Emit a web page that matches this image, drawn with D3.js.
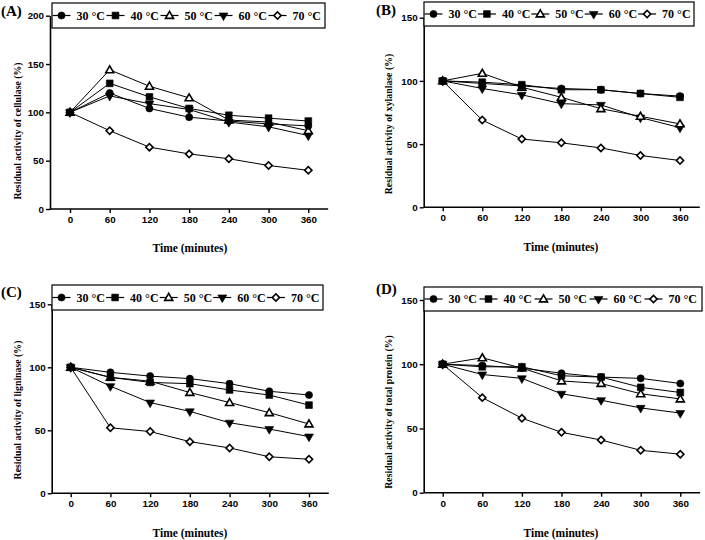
<!DOCTYPE html>
<html>
<head>
<meta charset="utf-8">
<script src="https://cdn.jsdelivr.net/npm/d3@7"></script>
<style>
  html, body { margin: 0; padding: 0; background: #fff; }
  svg { display: block; }
</style>
</head>
<body>
<svg id="chart" width="705" height="540"></svg>
<script>
// ---- data ----
const times = [0, 60, 120, 180, 240, 300, 360];
const seriesNames = ["30 °C", "40 °C", "50 °C", "60 °C", "70 °C"];
const panelLetters = ["(A)", "(B)", "(C)", "(D)"];
const yTitles = [
  "Residual activity of cellulase (%)",
  "Residual activity of xylanlase (%)",
  "Residual activity of ligninase (%)",
  "Residual activity of total protein (%)"
];
const xTitle = "Time (minutes)";
const yTicksA = [0, 50, 100, 150, 200];
const yTicksBCD = [0, 50, 100, 150];

// series order: 30, 40, 50, 60, 70 °C
const cellulase = [
  [100, 120, 104, 95, 91, 88, 86],
  [100, 130, 116, 104, 97, 94, 91],
  [100, 144, 127, 115, 92, 90, 81],
  [100, 117, 109, 103, 90, 85, 76],
  [100, 81, 64, 57, 52, 45, 40]
];
const xylanase = [
  [100, 98, 96, 94, 93, 90, 88],
  [100, 99, 97, 93, 93, 90, 87],
  [100, 106, 95, 87, 78, 72, 66],
  [100, 94, 89, 82, 81, 71, 63],
  [100, 69, 54, 51, 47, 41, 37]
];
const ligninase = [
  [100, 96, 93, 91, 87, 81, 78],
  [100, 92, 88, 87, 82, 78, 70],
  [100, 92, 89, 80, 72, 64, 55],
  [100, 85, 72, 65, 56, 51, 45],
  [100, 52, 49, 41, 36, 29, 27]
];
const totalProtein = [
  [100, 99, 97, 93, 90, 89, 85],
  [100, 98, 98, 91, 90, 82, 78],
  [100, 105, 97, 87, 85, 77, 73],
  [100, 92, 89, 77, 72, 66, 62],
  [100, 74, 58, 47, 41, 33, 30]
];

// ---- layout (pixels) ----
const panels = [
  { data: cellulase, yTicks: yTicksA, yMax: 200,
    left: 50, x0: 70, x360: 308.3, bottom: 209, yTop: 15.7,
    leg: [52, 325, 3, 28], letter: [1, 16], yTitle: [18, 131], xTitleY: 252, xTitleX: 190 },
  { data: xylanase, yTicks: yTicksBCD, yMax: 150,
    left: 423.7, x0: 442.7, x360: 680, bottom: 207.3, yTop: 17.7,
    leg: [424, 694, 2, 26], letter: [376, 15], yTitle: [389, 124], xTitleY: 251, xTitleX: 561 },
  { data: ligninase, yTicks: yTicksBCD, yMax: 150,
    left: 51.7, x0: 70.7, x360: 309, bottom: 493.3, yTop: 304.3,
    leg: [52, 323, 285, 310], letter: [1, 297], yTitle: [18, 410], xTitleY: 537, xTitleX: 190 },
  { data: totalProtein, yTicks: yTicksBCD, yMax: 150,
    left: 423.7, x0: 442.7, x360: 680.3, bottom: 492.7, yTop: 300,
    leg: [424, 702, 287, 311], letter: [376, 294], yTitle: [389, 412], xTitleY: 537, xTitleX: 561 }
];

const svg = d3.select("#chart");

// symbols
function markerPath(i) {
  if (i === 0) return d3.symbol().type(d3.symbolCircle).size(40)();
  if (i === 1) return d3.symbol().type(d3.symbolSquare).size(46)();
  if (i === 2) return d3.symbol().type(d3.symbolTriangle).size(28)();
  if (i === 3) return d3.symbol().type(d3.symbolTriangle).size(34)();
  return d3.symbol().type(d3.symbolSquare).size(26)();
}
function markerTransform(i, x, y) {
  if (i === 3) return `translate(${x},${y}) rotate(180)`;
  if (i === 4) return `translate(${x},${y}) rotate(45)`;
  if (i === 2) return `translate(${x},${y + 0.6})`;
  return `translate(${x},${y})`;
}
const filled = [true, true, false, true, false];
const markerOrder = [4, 3, 2, 0, 1];

function drawMarker(g, i, x, y) {
  g.append("path")
    .attr("d", markerPath(i))
    .attr("transform", markerTransform(i, x, y))
    .attr("fill", filled[i] ? "#000" : "#fff")
    .attr("stroke", "#000")
    .attr("stroke-width", filled[i] ? 0.6 : 1.6);
}

panels.forEach((p, pi) => {
  const g = svg.append("g");
  const pxPerMin = (p.x360 - p.x0) / 360;
  const x = d3.scaleLinear().domain([-30, 390])
    .range([p.x0 - 30 * pxPerMin, p.x0 + 390 * pxPerMin]);
  const y = d3.scaleLinear().domain([0, p.yMax]).range([p.bottom, p.yTop]);

  // x axis
  const xAxis = d3.axisBottom(x).tickValues(times).tickSize(4).tickSizeOuter(0).tickPadding(3);
  const gx = g.append("g").attr("transform", `translate(0,${p.bottom})`).call(xAxis);
  gx.select(".domain").attr("d", `M${p.left},0H${x(390)}`).attr("stroke-width", 1.6);
  gx.selectAll(".tick line").attr("stroke-width", 1.4);
  gx.selectAll("text")
    .attr("font-family", "'Liberation Sans', Arial, sans-serif")
    .attr("font-weight", "bold").attr("font-size", "9.8px").attr("fill", "#000");

  // y axis
  const yAxis = d3.axisLeft(y).tickValues(p.yTicks).tickSize(4).tickSizeOuter(0).tickPadding(2);
  const gy = g.append("g").attr("transform", `translate(${p.left},0)`).call(yAxis);
  gy.select(".domain").attr("stroke-width", 1.6);
  gy.selectAll(".tick line").attr("stroke-width", 1.4);
  gy.selectAll("text")
    .attr("font-family", "'Liberation Sans', Arial, sans-serif")
    .attr("font-weight", "bold").attr("font-size", "9.8px").attr("fill", "#000");

  // titles
  g.append("text")
    .attr("x", p.xTitleX).attr("y", p.xTitleY)
    .attr("text-anchor", "middle")
    .attr("font-family", "'Liberation Serif', 'Times New Roman', serif")
    .attr("font-weight", "bold").attr("font-size", "11.5px")
    .text(xTitle);
  g.append("text")
    .attr("transform", `translate(${p.yTitle[0]},${p.yTitle[1]}) rotate(-90)`)
    .attr("text-anchor", "middle").attr("dy", "0.35em")
    .attr("font-family", "'Liberation Serif', 'Times New Roman', serif")
    .attr("font-weight", "bold").attr("font-size", "9.8px")
    .text(yTitles[pi]);
  g.append("text")
    .attr("x", p.letter[0]).attr("y", p.letter[1])
    .attr("font-family", "'Liberation Serif', 'Times New Roman', serif")
    .attr("font-weight", "bold").attr("font-size", "15px")
    .text(panelLetters[pi]);

  // lines
  const line = d3.line().x((d, i) => x(times[i])).y(d => y(d));
  p.data.forEach((s, si) => {
    g.append("path").attr("d", line(s))
      .attr("fill", "none").attr("stroke", "#000").attr("stroke-width", 1);
  });
  // markers
  markerOrder.forEach(si => {
    const mg = g.append("g");
    p.data[si].forEach((v, i) => drawMarker(mg, si, x(times[i]), y(v)));
  });

  // legend
  const [lx1, lx2, ly1, ly2] = p.leg;
  const lg = g.append("g");
  lg.append("rect").attr("x", lx1).attr("y", ly1)
    .attr("width", lx2 - lx1).attr("height", ly2 - ly1)
    .attr("fill", "#fff").attr("stroke", "#000").attr("stroke-width", 1.2);
  const cy = (ly1 + ly2) / 2;
  const step = (lx2 - lx1 - 3) / 5;
  seriesNames.forEach((name, si) => {
    const mx = lx1 + 9.5 + si * step;
    lg.append("line").attr("x1", mx - 9).attr("x2", mx + 9)
      .attr("y1", cy).attr("y2", cy).attr("stroke", "#000").attr("stroke-width", 1.2);
    drawMarker(lg, si, mx, cy);
    lg.append("text").attr("x", mx + 15).attr("y", cy).attr("dy", "0.35em")
      .attr("font-family", "'Liberation Serif', 'Times New Roman', serif")
      .attr("font-weight", "bold").attr("font-size", "12px")
      .text(name);
  });
});
</script>
</body>
</html>
